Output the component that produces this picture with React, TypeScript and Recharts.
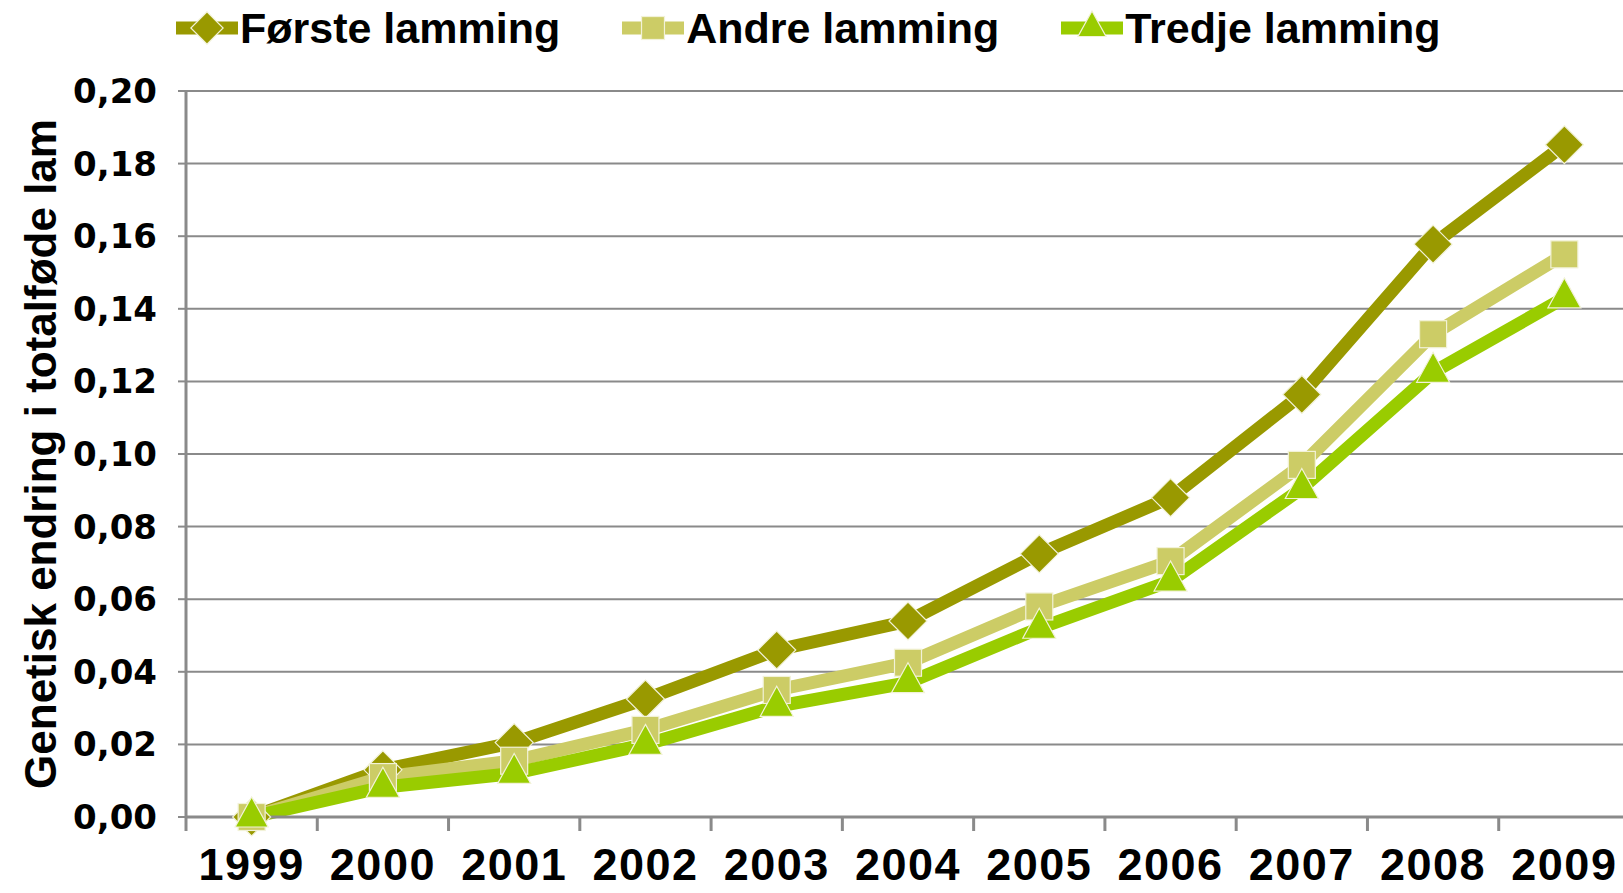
import { CartesianGrid, Legend, Line, LineChart, XAxis, YAxis } from "recharts";

const years = ["1999", "2000", "2001", "2002", "2003", "2004", "2005", "2006", "2007", "2008", "2009"];
const forsteLamming = [0, 0.013, 0.0205, 0.0325, 0.046, 0.054, 0.0725, 0.088, 0.1164, 0.1578, 0.1852];
const andreLamming = [0, 0.011, 0.0155, 0.024, 0.035, 0.0425, 0.058, 0.0705, 0.097, 0.133, 0.155];
const tredjeLamming = [0, 0.0082, 0.012, 0.02, 0.0305, 0.037, 0.052, 0.065, 0.0905, 0.1225, 0.143];
const yTicks = [0, 0.02, 0.04, 0.06, 0.08, 0.1, 0.12, 0.14, 0.16, 0.18, 0.2];

const yTitle = "Genetisk endring i totalføde lam";

const data = years.map((year, i) => ({
  year,
  forste: forsteLamming[i],
  andre: andreLamming[i],
  tredje: tredjeLamming[i],
}));

const seriesOrder = ["forste", "andre", "tredje"];
const shapes: Record<string, string> = { forste: "diamond", andre: "square", tredje: "triangle" };

const GRID = "#8a8a8a";
const LABEL_FONT = "'Liberation Sans', Arial, sans-serif";

function Marker({ shape, cx, cy, fill, scale = 1 }: any) {
  if (cx == null || cy == null) return null;
  const outline = { stroke: "#f2f2d8", strokeWidth: 1.2 };
  if (shape === "diamond") {
    const r = 19 * scale;
    const pts = `${cx},${cy - r} ${cx + r},${cy} ${cx},${cy + r} ${cx - r},${cy}`;
    return <polygon points={pts} fill={fill} {...outline} />;
  }
  if (shape === "square") {
    const s = 27 * scale;
    return <rect x={cx - s / 2} y={cy - s / 2} width={s} height={s} fill={fill} {...outline} />;
  }
  const w = 33 * scale;
  const h = 30 * scale;
  const pts = `${cx},${cy - (2 * h) / 3} ${cx + w / 2},${cy + h / 3} ${cx - w / 2},${cy + h / 3}`;
  return <polygon points={pts} fill={fill} {...outline} />;
}

function makeDot(key: string, color: string) {
  return (p: any) => <Marker key={`${key}-${p.index}`} shape={shapes[key]} cx={p.cx} cy={p.cy} fill={color} />;
}

function YearTick(props: any) {
  const { x, y, payload, width, visibleTicksCount } = props;
  const band = width / visibleTicksCount;
  return (
    <g>
      <line x1={x - band / 2} x2={x - band / 2} y1={y} y2={y + 14} stroke={GRID} strokeWidth={3} />
      <text
        x={x}
        y={y + 63}
        textAnchor="middle"
        fontFamily={LABEL_FONT}
        fontWeight="bold"
        fontSize={45}
        letterSpacing={1.5}
        fill="#000"
      >
        {payload.value}
      </text>
    </g>
  );
}

function YTitle({ viewBox }: any) {
  const cx = viewBox.x + 40;
  const cy = viewBox.y + viewBox.height / 2;
  return (
    <text
      x={cx}
      y={cy}
      transform={`rotate(-90 ${cx} ${cy})`}
      textAnchor="middle"
      dominantBaseline="central"
      fontFamily={LABEL_FONT}
      fontWeight="bold"
      fontSize={44}
      fill="#000"
    >
      {yTitle}
    </text>
  );
}

function LegendContent({ payload }: any) {
  const items = [...(payload || [])].sort(
    (a: any, b: any) => seriesOrder.indexOf(a.dataKey) - seriesOrder.indexOf(b.dataKey)
  );
  return (
    <div style={{ display: "flex", alignItems: "center", height: 56, paddingLeft: 176, gap: 62 }}>
      {items.map((item: any) => (
        <div key={item.dataKey} style={{ display: "flex", alignItems: "center" }}>
          <svg width={62} height={40}>
            <line x1={0} x2={62} y1={20} y2={20} stroke={item.color} strokeWidth={13} />
            <Marker shape={shapes[item.dataKey]} cx={31} cy={20} fill={item.color} scale={0.85} />
          </svg>
          <span
            style={{
              marginLeft: 2,
              fontFamily: LABEL_FONT,
              fontWeight: "bold",
              fontSize: 43,
              color: "#000",
              lineHeight: "56px",
            }}
          >
            {item.value}
          </span>
        </div>
      ))}
    </div>
  );
}

export default function App() {
  return (
    <div style={{ position: "absolute", left: 0, top: 0, width: 1623, height: 893, overflow: "hidden", background: "#fff" }}>
      <LineChart width={1640} height={893} data={data} margin={{ top: 35, right: 10, bottom: 0, left: 0 }}>
        <CartesianGrid vertical={false} stroke={GRID} strokeWidth={2} />
        <Legend
          verticalAlign="top"
          align="left"
          wrapperStyle={{ top: 0, left: 0, width: 1623 }}
          content={LegendContent}
        />
        <XAxis
          dataKey="year"
          scale="band"
          interval={0}
          height={76}
          tickLine={false}
          tickSize={0}
          tickMargin={0}
          axisLine={{ stroke: GRID, strokeWidth: 3 }}
          tick={<YearTick />}
        />
        <YAxis
          width={186}
          domain={[0, 0.2]}
          ticks={yTicks}
          interval={0}
          tickSize={8}
          tickMargin={21}
          tickFormatter={(v: number) => v.toFixed(2).replace(".", ",")}
          axisLine={{ stroke: GRID, strokeWidth: 3 }}
          tickLine={{ stroke: GRID, strokeWidth: 2 }}
          tick={{ fontFamily: "'DejaVu Sans', Verdana, sans-serif", fontWeight: "bold", fontSize: 34, fill: "#000" }}
          label={{ content: YTitle }}
        />
        <Line
          dataKey="forste"
          name="Første lamming"
          stroke="#999900"
          strokeWidth={13}
          dot={makeDot("forste", "#999900")}
          activeDot={false}
          isAnimationActive={false}
        />
        <Line
          dataKey="andre"
          name="Andre lamming"
          stroke="#cccc66"
          strokeWidth={13}
          dot={makeDot("andre", "#cccc66")}
          activeDot={false}
          isAnimationActive={false}
        />
        <Line
          dataKey="tredje"
          name="Tredje lamming"
          stroke="#99cc00"
          strokeWidth={13}
          dot={makeDot("tredje", "#99cc00")}
          activeDot={false}
          isAnimationActive={false}
        />
      </LineChart>
    </div>
  );
}
